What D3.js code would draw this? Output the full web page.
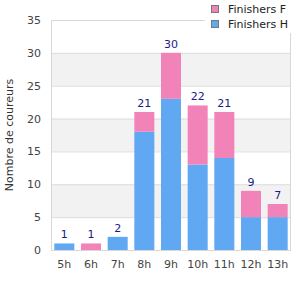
<!DOCTYPE html>
<html>
<head>
<meta charset="utf-8">
<script src="https://cdn.jsdelivr.net/npm/d3@7"></script>
<style>
  body { margin: 0; background: #fff; }
  svg { font-family: "DejaVu Sans", sans-serif; }
</style>
</head>
<body>
<div id="chart"></div>
<script>
// data
const hours = ["5h", "6h", "7h", "8h", "9h", "10h", "11h", "12h", "13h"];
const finishersH = [1, 0, 2, 18, 23, 13, 14, 5, 5];
const finishersF = [0, 1, 0, 3, 7, 9, 7, 4, 2];
const yTicks = [0, 5, 10, 15, 20, 25, 30, 35];
const seriesNames = ["Finishers F", "Finishers H"];

const width = 300, height = 300;
const margin = { top: 20, right: 9, bottom: 50, left: 51 };
const plotWidth = width - margin.left - margin.right;
const plotHeight = height - margin.top - margin.bottom;

const colF = "#f283b8";
const colH = "#60a8f2";

const svg = d3.select("#chart").append("svg").attr("width", width).attr("height", height);
const g = svg.append("g").attr("transform", `translate(${margin.left},${margin.top})`);

const x = d3.scaleBand().domain(hours).range([0, plotWidth]).paddingInner(0.25).paddingOuter(0.125);
const y = d3.scaleLinear().domain([0, 35]).range([plotHeight, 0]);

// alternating bands
const bands = d3.pairs(yTicks).filter((d, i) => i % 2 === 1);
g.selectAll("rect.band")
    .data(bands)
    .enter()
    .append("rect")
    .attr("class", "band")
    .attr("x", 0)
    .attr("y", d => y(d[1]))
    .attr("width", plotWidth)
    .attr("height", d => y(d[0]) - y(d[1]))
    .attr("fill", "#f2f2f2");

// grid lines
g.selectAll("line.grid")
    .data(yTicks)
    .enter()
    .append("line")
    .attr("x1", 0)
    .attr("x2", plotWidth)
    .attr("y1", d => y(d) + 0.5)
    .attr("y2", d => y(d) + 0.5)
    .attr("stroke", "#dddddd");

// frame
g.append("rect")
    .attr("x", 0.5)
    .attr("y", 0.5)
    .attr("width", plotWidth - 1)
    .attr("height", plotHeight)
    .attr("fill", "none")
    .attr("stroke", "#d8d8d8");

// stacked bars
const rows = hours.map((h, i) => ({ hour: h, H: finishersH[i], F: finishersF[i] }));
const stack = d3.stack().keys(["H", "F"])(rows);
const colors = { H: colH, F: colF };

g.selectAll("g.layer")
    .data(stack)
    .enter()
    .append("g")
    .attr("fill", d => colors[d.key])
    .selectAll("rect")
    .data(d => d)
    .enter()
    .append("rect")
    .attr("x", d => x(d.data.hour))
    .attr("y", d => y(d[1]))
    .attr("width", x.bandwidth())
    .attr("height", d => y(d[0]) - y(d[1]));

// totals
g.selectAll("text.total")
    .data(rows)
    .enter()
    .append("text")
    .attr("x", d => x(d.hour) + x.bandwidth() / 2)
    .attr("y", d => y(d.H + d.F) - 5)
    .attr("text-anchor", "middle")
    .attr("font-size", 11)
    .attr("fill", "#1a1a8a")
    .text(d => d.H + d.F);

// axes
const yAxis = g.append("g").call(d3.axisLeft(y).tickValues(yTicks).tickSize(0).tickPadding(10));
yAxis.select(".domain").remove();
yAxis.selectAll("text").attr("font-size", 11).attr("fill", "#444").attr("font-family", "DejaVu Sans, sans-serif");

const xAxis = g.append("g")
    .attr("transform", `translate(0,${plotHeight})`)
    .call(d3.axisBottom(x).tickSize(0).tickPadding(10));
xAxis.select(".domain").remove();
xAxis.selectAll("text").attr("font-size", 11).attr("fill", "#444").attr("font-family", "DejaVu Sans, sans-serif");

// y label
svg.append("text")
    .attr("transform", "rotate(-90)")
    .attr("x", -(margin.top + plotHeight / 2))
    .attr("y", 13)
    .attr("text-anchor", "middle")
    .attr("font-size", 11)
    .attr("fill", "#333")
    .text("Nombre de coureurs");

// legend
const legend = svg.append("g").attr("transform", "translate(205,0)");
legend.append("rect").attr("width", 95).attr("height", 33).attr("fill", "#fff");
const li = legend.selectAll("g.item")
    .data(seriesNames)
    .enter()
    .append("g")
    .attr("transform", (d, i) => `translate(6,${5 + i * 15})`);
li.append("rect")
    .attr("x", 0.5)
    .attr("y", 0.5)
    .attr("width", 7)
    .attr("height", 7)
    .attr("fill", d => d === "Finishers F" ? colF : colH)
    .attr("stroke", "#777");
li.append("text")
    .attr("x", 17)
    .attr("y", 8)
    .attr("font-size", 11)
    .attr("fill", "#222")
    .text(d => d);
</script>
</body>
</html>
